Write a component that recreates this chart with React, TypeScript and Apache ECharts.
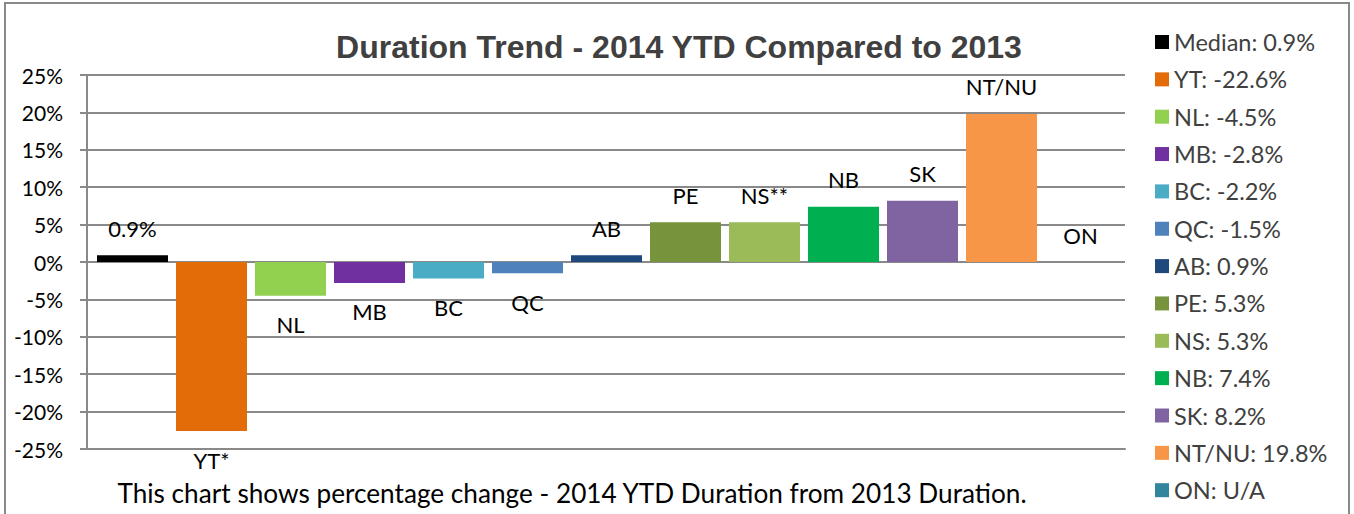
import React, { useEffect, useRef } from "react";
import * as echarts from "echarts";

const categories = ["Median", "YT", "NL", "MB", "BC", "QC", "AB", "PE", "NS", "NB", "SK", "NT/NU", "ON"];
const values: (number | null)[] = [0.9, -22.6, -4.5, -2.8, -2.2, -1.5, 0.9, 5.3, 5.3, 7.4, 8.2, 19.8, 0];
const legendTexts = ["0.9%", "-22.6%", "-4.5%", "-2.8%", "-2.2%", "-1.5%", "0.9%", "5.3%", "5.3%", "7.4%", "8.2%", "19.8%", "U/A"];
const barLabels = ["0.9%", "YT*", "NL", "MB", "BC", "QC", "AB", "PE", "NS**", "NB", "SK", "NT/NU", "ON"];
const colors = ["#000000", "#E36C09", "#92D050", "#7030A0", "#4BACC6", "#4F81BD", "#1F497D", "#77933C", "#9BBB59", "#00B050", "#8064A2", "#F79646", "#31859C"];
const yTicks = [-25, -20, -15, -10, -5, 0, 5, 10, 15, 20, 25];

const FONT = "Lato, 'Open Sans', sans-serif";

export default function App() {
  const ref = useRef<HTMLDivElement>(null);
  useEffect(() => {
    if (!ref.current) return;
    const chart = echarts.init(ref.current, null, { renderer: "svg" });
    const series = categories.map((c, i) => {
      const v = values[i] as number;
      return {
        name: `${c}: ${legendTexts[i]}`,
        type: "bar",
        xAxisIndex: 0,
        yAxisIndex: 0,
        barWidth: 71,
        barGap: "-100%",
        itemStyle: { color: colors[i] },
        data: categories.map((_, j) => (j === i ? v : null)),
        label: {
          show: true,
          position: v < 0 ? "bottom" : "top",
          distance: v < 0 ? 18 : 16,
          formatter: () => barLabels[i],
          color: "#000",
          fontSize: 22,
          fontFamily: FONT,
        },
      };
    });
    chart.setOption({
      animation: false,
      title: {
        text: "Duration Trend - 2014 YTD Compared to 2013",
        left: 674,
        top: 26,
        textAlign: "center",
        textStyle: { fontSize: 32, fontWeight: "bold", color: "#404040", fontFamily: "'Liberation Sans', Arial, sans-serif" },
      },
      legend: {
        orient: "vertical",
        left: 1150,
        top: 25,
        height: 488,
        itemWidth: 14,
        itemHeight: 14,
        itemGap: 13.35,
        icon: "rect",
        textStyle: { fontSize: 23.5, color: "#404040", fontFamily: FONT },
        data: series.map((s) => s.name),
      },
      grid: [
        { left: 93, right: 234, top: 75, bottom: 65 },
        { left: 87, right: 229, top: 75, bottom: 65 },
      ],
      xAxis: [
        {
          type: "category",
          gridIndex: 0,
          data: categories,
          axisLine: { show: false },
          axisTick: { show: false },
          axisLabel: { show: false },
        },
        {
          type: "category",
          gridIndex: 1,
          data: categories,
          position: "bottom",
          axisLine: { show: true, onZero: false, lineStyle: { color: "#898989", width: 2 } },
          axisTick: { show: false },
          axisLabel: { show: false },
        },
      ],
      yAxis: [
        {
          type: "value",
          gridIndex: 0,
          min: -25,
          max: 25,
          interval: 5,
          show: false,
        },
        {
          type: "value",
          gridIndex: 1,
          min: -25,
          max: 25,
          interval: 5,
          axisLine: { show: true, lineStyle: { color: "#898989", width: 2 } },
          axisTick: { show: true, length: 7, lineStyle: { color: "#898989", width: 2 } },
          splitLine: { show: true, lineStyle: { color: "#898989", width: 2 } },
          axisLabel: {
            formatter: (v: number) => (yTicks.includes(v) ? `${v}%` : ""),
            fontSize: 21,
            color: "#000",
            fontFamily: FONT,
            margin: 24,
          },
        },
      ],
      graphic: [
        {
          type: "rect",
          shape: { x: 5, y: 3, width: 1344, height: 520 },
          style: { fill: "none", stroke: "#898989", lineWidth: 2 },
          silent: true,
          z: -1,
        },
        {
          type: "text",
          x: 572,
          y: 493,
          style: {
            text: "This chart shows percentage change - 2014 YTD Duration from 2013 Duration.",
            fontSize: 26.2,
            fill: "#000",
            fontFamily: FONT,
            textAlign: "center",
            textVerticalAlign: "middle",
          },
        },
      ],
      series,
    });
    return () => chart.dispose();
  }, []);
  return (
    <div
      ref={ref}
      style={{ position: "absolute", left: 0, top: 0, width: 1354, height: 514, background: "#fff" }}
    />
  );
}
